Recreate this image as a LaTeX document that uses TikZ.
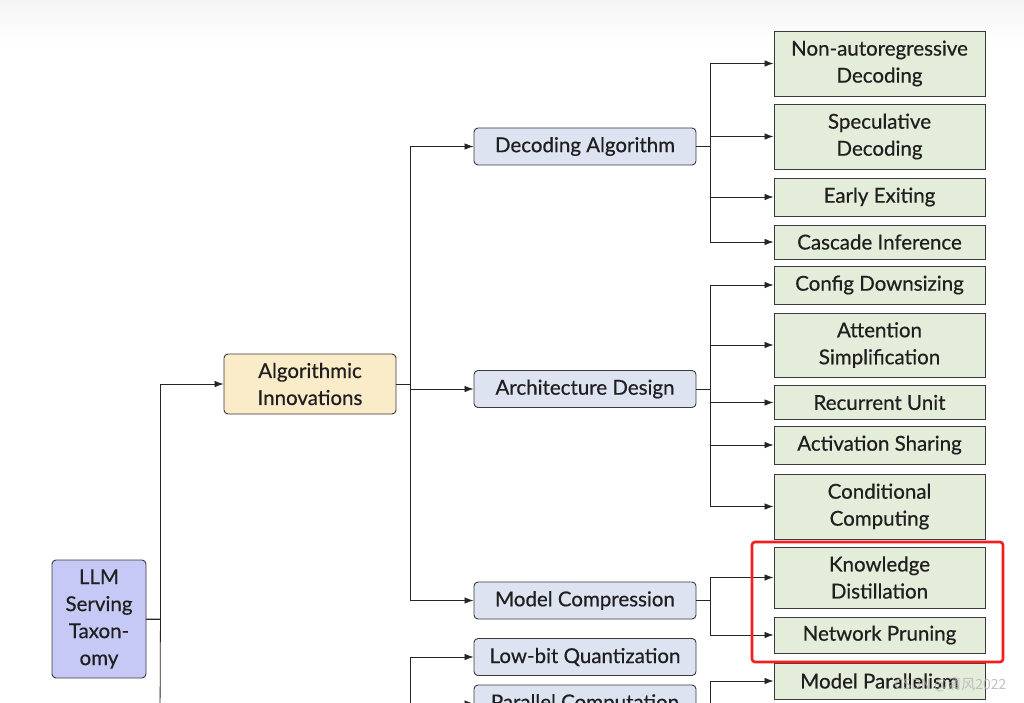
\documentclass[tikz,border=0pt]{standalone}
\usepackage{fontspec}
\setmainfont{Lato}[UprightFeatures={FakeBold=0.5}]
\newfontfamily\cjkfont{Noto Sans CJK SC}
\usetikzlibrary{arrows.meta}
\definecolor{rootc}{HTML}{C6C9F5}
\definecolor{algc}{HTML}{FAEBC9}
\definecolor{catc}{HTML}{DEE3F2}
\definecolor{leafc}{HTML}{E3EDD9}
\definecolor{edgec}{HTML}{3A3A3A}
\definecolor{hlred}{HTML}{F41E1E}
\newcommand{\nfont}{\fontsize{20.5}{27}\selectfont}
\begin{document}
\begin{tikzpicture}[x=1pt,y=-1pt,
  box/.style={draw=edgec, line width=0.9pt, align=center, inner sep=0pt, font=\nfont, text=black!88},
  rootbox/.style={box, fill=rootc, rounded corners=4pt},
  algbox/.style={box, fill=algc, rounded corners=4pt},
  catbox/.style={box, fill=catc, rounded corners=4pt, minimum width=222pt, minimum height=37pt},
  leafbox/.style={box, fill=leafc, minimum width=211pt},
  conn/.style={draw=black!85, line width=0.8pt},
  arr/.style={conn, -{Latex[length=9pt,width=6.5pt]}}]
\useasboundingbox (0,0) rectangle (1024,703);
\clip (0,0) rectangle (1024,703);
\fill[white] (0,0) rectangle (1024,703);
\shade[top color=black!4, bottom color=white] (0,0) rectangle (1024,45);

% nodes
\node[rootbox, minimum width=94pt, minimum height=118pt] (root) at (99,619) {LLM\\Serving\\Taxon-\\omy};
\node[algbox, minimum width=172pt, minimum height=60pt] (alg) at (310,384) {Algorithmic\\Innovations};

\node[catbox] (dec) at (585,146.5) {Decoding Algorithm};
\node[catbox] (arch) at (585,389) {Architecture Design};
\node[catbox] (mc) at (585,600.5) {Model Compression};
\node[catbox] (lowbit) at (585,657) {Low-bit Quantization};
\node[catbox] (par) at (585,703.5) {Parallel Computation};

\node[leafbox, minimum height=65pt] (nar) at (879.5,63.5) {Non-autoregressive\\Decoding};
\node[leafbox, minimum height=65pt] (spec) at (879.5,136.5) {Speculative\\Decoding};
\node[leafbox, minimum height=38pt] (early) at (879.5,197) {Early Exiting};
\node[leafbox, minimum height=34pt] (casc) at (879.5,242) {Cascade Inference};
\node[leafbox, minimum height=38pt] (config) at (879.5,285) {Config Downsizing};
\node[leafbox, minimum height=64pt] (attn) at (879.5,345) {Attention\\Simplification};
\node[leafbox, minimum height=34pt] (recur) at (879.5,402.5) {Recurrent Unit};
\node[leafbox, minimum height=38pt] (act) at (879.5,445) {Activation Sharing};
\node[leafbox, minimum height=65pt] (cond) at (879.5,506.5) {Conditional\\Computing};
\node[leafbox, minimum height=61pt] (kd) at (879.5,577.5) {Knowledge\\Distillation};
\node[leafbox, minimum height=36pt] (np) at (879.5,635) {Network Pruning};
\node[leafbox, minimum height=36pt] (mp) at (879.5,681) {Model Parallelism};

% free ends below the visible area
\coordinate (rootdown) at (160,720);
\coordinate (sysdown) at (410,720);
\coordinate (pardown) at (710,720);

% connectors
\draw[arr] (root.east) -- ++(14,0) |- (alg.west);
\draw[conn] (root.east) -- ++(14,0) -- (rootdown);

\draw[arr] (alg.east) -- ++(14,0) |- (dec.west);
\draw[arr] (alg.east) -- ++(14,0) |- (arch.west);
\draw[arr] (alg.east) -- ++(14,0) |- (mc.west);

\draw[arr] (sysdown) |- (lowbit.west);
\draw[arr] (sysdown) |- (par.west);

\foreach \l in {nar,spec,early,casc}
  \draw[arr] (dec.east) -- ++(14,0) |- (\l.west);
\foreach \l in {config,attn,recur,act,cond}
  \draw[arr] (arch.east) -- ++(14,0) |- (\l.west);
\foreach \l in {kd,np}
  \draw[arr] (mc.east) -- ++(14,0) |- (\l.west);
\draw[arr] (par.east) -- ++(14,0) |- (mp.west);
\draw[conn] (par.east) -- ++(14,0) -- (pardown);

% highlight
\draw[hlred, line width=2.6pt, rounded corners=3pt] (752,542) rectangle (1003,662);

% watermark
\node[font=\cjkfont\fontsize{14}{16}\selectfont, text=black!30, opacity=0.8, anchor=east] (wm) at (1010,685) {CSDN @清风2022};
\end{tikzpicture}
\end{document}
